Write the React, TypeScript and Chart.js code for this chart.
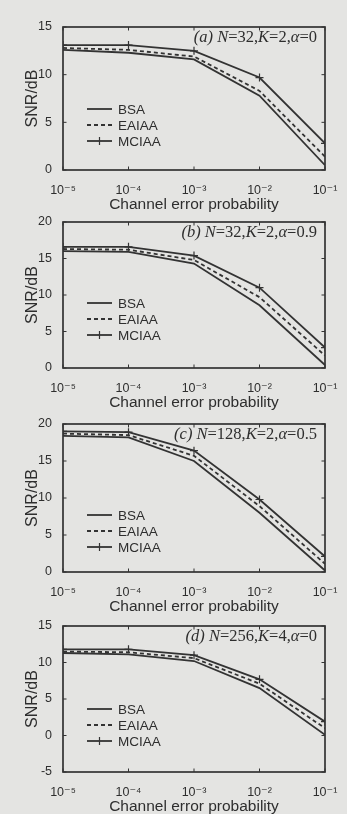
import React, { useEffect, useRef } from "react";
import { Chart, registerables } from "chart.js";

Chart.register(...registerables);

// ---------- data ----------
const PROBABILITIES = [1e-5, 1e-4, 1e-3, 1e-2, 1e-1];
const X_TICK_LABELS = ["10⁻⁵", "10⁻⁴", "10⁻³", "10⁻²", "10⁻¹"];
const SERIES_NAMES = ["BSA", "EAIAA", "MCIAA"];
const X_TITLE = "Channel error probability";
const Y_TITLE = "SNR/dB";

// (a) N=32, K=2, alpha=0
const A_BSA = [12.6, 12.3, 11.6, 7.8, 0.5];
const A_EAIAA = [12.8, 12.6, 11.9, 8.3, 1.4];
const A_MCIAA = [13.1, 13.1, 12.5, 9.7, 2.8];
// (b) N=32, K=2, alpha=0.9
const B_BSA = [16.0, 15.9, 14.3, 8.6, 0.4];
const B_EAIAA = [16.3, 16.2, 14.8, 9.7, 1.7];
const B_MCIAA = [16.6, 16.6, 15.4, 11.0, 2.8];
// (c) N=128, K=2, alpha=0.5
const C_BSA = [18.4, 18.2, 15.0, 8.0, 0.2];
const C_EAIAA = [18.7, 18.5, 15.7, 8.9, 1.1];
const C_MCIAA = [19.0, 18.9, 16.4, 9.8, 2.1];
// (d) N=256, K=4, alpha=0
const D_BSA = [11.3, 11.1, 10.2, 6.5, 0.1];
const D_EAIAA = [11.5, 11.4, 10.6, 7.1, 1.0];
const D_MCIAA = [11.8, 11.8, 11.0, 7.7, 1.9];

const PANEL_LETTERS = ["a", "b", "c", "d"];
const PANEL_N = ["32", "32", "128", "256"];
const PANEL_K = ["2", "2", "2", "4"];
const PANEL_ALPHA = ["0", "0.9", "0.5", "0"];
const PANEL_SERIES = [
  [A_BSA, A_EAIAA, A_MCIAA],
  [B_BSA, B_EAIAA, B_MCIAA],
  [C_BSA, C_EAIAA, C_MCIAA],
  [D_BSA, D_EAIAA, D_MCIAA],
];
const PANEL_Y_MIN = [0, 0, 0, -5];
const PANEL_Y_MAX = [15, 20, 20, 15];
const Y_STEP = 5;

// ---------- layout / style ----------
const W = 347;
const PLOT_LEFT = 63;
const PLOT_RIGHT = 325;
const PAD_TOP = 20;
const X_AXIS_H = 48;
const LAYOUT = [
  { plotTop: 27, plotBottom: 170, legendY: 82 },
  { plotTop: 222, plotBottom: 368, legendY: 81 },
  { plotTop: 424, plotBottom: 572, legendY: 91 },
  { plotTop: 626, plotBottom: 772, legendY: 83 },
];
const BG = "#e4e4e2";
const INK = "#333333";
const TEXT = "#2e2e2e";
const SANS = "'Liberation Sans', Arial, 'DejaVu Sans', sans-serif";
const SERIF = "'Liberation Serif', 'Times New Roman', serif";

const framePlugin = {
  id: "frame",
  afterDatasetsDraw(chart: any) {
    const { ctx, chartArea: a, scales } = chart;
    ctx.save();
    ctx.strokeStyle = INK;
    ctx.lineWidth = 1.7;
    ctx.setLineDash([]);
    ctx.strokeRect(a.left, a.top, a.right - a.left, a.bottom - a.top);
    ctx.lineWidth = 1;
    const tl = 3.5;
    scales.x.ticks.forEach((t: any) => {
      const x = scales.x.getPixelForValue(t.value);
      ctx.beginPath();
      ctx.moveTo(x, a.bottom);
      ctx.lineTo(x, a.bottom - tl);
      ctx.moveTo(x, a.top);
      ctx.lineTo(x, a.top + tl);
      ctx.stroke();
    });
    scales.y.ticks.forEach((t: any) => {
      const y = scales.y.getPixelForValue(t.value);
      ctx.beginPath();
      ctx.moveTo(a.left, y);
      ctx.lineTo(a.left + tl, y);
      ctx.moveTo(a.right, y);
      ctx.lineTo(a.right - tl, y);
      ctx.stroke();
    });
    ctx.restore();
  },
};

const legendPlugin = {
  id: "panelLegend",
  afterDatasetsDraw(chart: any, _args: any, opts: any) {
    const { ctx, chartArea: a } = chart;
    const x0 = a.left + 24;
    const x1 = a.left + 49;
    const tx = a.left + 55;
    chart.data.datasets.forEach((ds: any, i: number) => {
      const y = a.top + opts.top + i * 16;
      ctx.save();
      ctx.strokeStyle = ds.borderColor;
      ctx.lineWidth = ds.borderWidth;
      ctx.setLineDash(ds.borderDash || []);
      ctx.beginPath();
      ctx.moveTo(x0, y);
      ctx.lineTo(x1, y);
      ctx.stroke();
      ctx.setLineDash([]);
      if (ds.pointStyle === "cross") {
        ctx.lineWidth = 1.2;
        ctx.beginPath();
        ctx.moveTo((x0 + x1) / 2, y - 4);
        ctx.lineTo((x0 + x1) / 2, y + 4);
        ctx.stroke();
      }
      ctx.fillStyle = TEXT;
      ctx.font = `13.5px ${SANS}`;
      ctx.textBaseline = "middle";
      ctx.textAlign = "left";
      ctx.fillText(ds.label, tx, y + 1);
      ctx.restore();
    });
  },
};

const labelPlugin = {
  id: "panelLabel",
  afterDatasetsDraw(chart: any, _args: any, opts: any) {
    const { ctx, chartArea: a } = chart;
    const segs: [string, boolean][] = [
      [`(${opts.letter}) `, true],
      ["N", true],
      [`=${opts.n},`, false],
      ["K", true],
      [`=${opts.k},`, false],
      ["α", true],
      [`=${opts.alpha}`, false],
    ];
    const fontFor = (it: boolean) => `${it ? "italic " : ""}16.5px ${SERIF}`;
    ctx.save();
    let total = 0;
    segs.forEach(([t, it]) => {
      ctx.font = fontFor(it);
      total += ctx.measureText(t).width;
    });
    let x = a.right - 8 - total;
    const y = a.top + 11;
    ctx.fillStyle = TEXT;
    ctx.textBaseline = "middle";
    ctx.textAlign = "left";
    segs.forEach(([t, it]) => {
      ctx.font = fontFor(it);
      ctx.fillText(t, x, y);
      x += ctx.measureText(t).width;
    });
    ctx.restore();
  },
};

function Panel({ idx }: { idx: number }) {
  const ref = useRef<HTMLCanvasElement>(null);
  const L = LAYOUT[idx];
  const top = L.plotTop - PAD_TOP;
  const height = L.plotBottom - L.plotTop + PAD_TOP + X_AXIS_H;

  useEffect(() => {
    if (!ref.current) return;
    const series = PANEL_SERIES[idx];
    const styles = [
      { borderDash: [], pointStyle: false as any, pointRadius: 0 },
      { borderDash: [4, 3], pointStyle: false as any, pointRadius: 0 },
      { borderDash: [], pointStyle: "cross", pointRadius: 4 },
    ];
    const chart = new Chart(ref.current, {
      type: "line",
      data: {
        datasets: SERIES_NAMES.map((name, i) => ({
          label: name,
          data: PROBABILITIES.map((p, j) => ({ x: p, y: series[i][j] })),
          borderColor: INK,
          backgroundColor: INK,
          borderWidth: 1.8,
          borderDash: styles[i].borderDash,
          pointStyle: styles[i].pointStyle,
          pointRadius: styles[i].pointRadius,
          pointBorderWidth: 1.2,
          pointBorderColor: INK,
          tension: 0,
          fill: false,
        })),
      },
      options: {
        animation: false,
        responsive: false,
        maintainAspectRatio: false,
        events: [],
        layout: { padding: { top: PAD_TOP, right: W - PLOT_RIGHT, left: 0, bottom: 0 } },
        plugins: {
          legend: { display: false },
          tooltip: { enabled: false },
          panelLegend: { top: L.legendY },
          panelLabel: {
            letter: PANEL_LETTERS[idx],
            n: PANEL_N[idx],
            k: PANEL_K[idx],
            alpha: PANEL_ALPHA[idx],
          },
        } as any,
        scales: {
          x: {
            type: "logarithmic",
            min: PROBABILITIES[0],
            max: PROBABILITIES[PROBABILITIES.length - 1],
            grid: { display: false },
            border: { display: false },
            afterBuildTicks: (scale: any) => {
              scale.ticks = PROBABILITIES.map((v) => ({ value: v }));
            },
            afterFit: (scale: any) => {
              scale.height = X_AXIS_H;
            },
            ticks: {
              autoSkip: false,
              maxRotation: 0,
              padding: 5,
              color: TEXT,
              font: { size: 12.5, family: SANS },
              callback: (_v: any, i: number) => X_TICK_LABELS[i],
            },
            title: {
              display: true,
              text: X_TITLE,
              color: TEXT,
              font: { size: 15.5, family: SANS, lineHeight: 1.2 },
              padding: { top: 0, bottom: 4 },
            },
          },
          y: {
            type: "linear",
            min: PANEL_Y_MIN[idx],
            max: PANEL_Y_MAX[idx],
            grid: { display: false },
            border: { display: false },
            afterFit: (scale: any) => {
              scale.width = PLOT_LEFT;
            },
            ticks: {
              stepSize: Y_STEP,
              padding: 3,
              color: TEXT,
              font: { size: 12.5, family: SANS },
            },
            title: {
              display: true,
              text: Y_TITLE,
              color: TEXT,
              font: { size: 16, family: SANS, lineHeight: 1.2 },
              padding: { top: 23, bottom: 0 },
            },
          },
        },
      },
      plugins: [framePlugin, legendPlugin, labelPlugin],
    } as any);
    return () => chart.destroy();
  }, [idx]);

  return (
    <canvas
      ref={ref}
      width={W}
      height={height}
      style={{ position: "absolute", left: 0, top, width: W, height }}
    />
  );
}

export default function App() {
  return (
    <div
      style={{
        position: "fixed",
        left: 0,
        top: 0,
        width: W,
        height: 814,
        background: BG,
        overflow: "hidden",
      }}
    >
      {LAYOUT.map((_, i) => (
        <Panel key={i} idx={i} />
      ))}
    </div>
  );
}
